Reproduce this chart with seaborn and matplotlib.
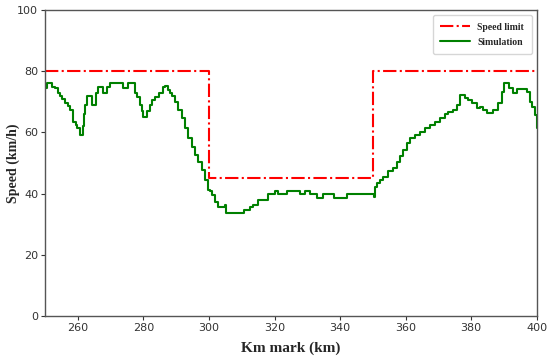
import numpy as np
import pandas as pd
import matplotlib
matplotlib.use("Agg")
import matplotlib.pyplot as plt
import seaborn as sns

# speed limit profile (step changes)
limit_km = [250, 300, 350, 400]
limit_speed = [80, 45, 80, 80]

# simulated speed
sim_km = [250.0, 250.6, 252.0, 253.0, 254.0, 254.6, 255.3, 256.1, 257.0, 257.6,
          258.5, 259.3, 259.8, 260.7, 261.5, 261.8, 262.3, 262.8, 264.3, 265.5,
          266.2, 267.7, 269.0, 269.8, 273.8, 275.3, 277.4, 278.0, 278.8, 279.6,
          279.9, 281.1, 281.9, 282.6, 283.5, 284.8, 286.0, 286.6, 287.5, 288.1,
          288.7, 289.6, 290.5, 291.8, 292.7, 293.6, 294.8, 295.7, 296.6, 297.9,
          298.8, 299.7, 300.3, 300.9, 301.7, 302.7, 304.9, 305.2, 310.6, 312.5,
          313.4, 315.0, 318.0, 320.0, 320.9, 323.8, 327.7, 329.3, 330.8, 332.9,
          334.8, 338.1, 342.2, 349.7, 350.3, 350.6, 351.2, 352.1, 353.0, 354.6,
          356.1, 357.3, 358.2, 359.1, 360.4, 361.3, 362.8, 364.3, 365.9, 367.4,
          368.9, 370.4, 372.0, 372.9, 374.4, 375.6, 376.5, 378.0, 379.0, 380.2,
          381.7, 382.6, 383.5, 384.8, 386.6, 388.1, 389.3, 390.0, 391.5, 392.7,
          393.9, 396.9, 397.9, 398.5, 399.4, 400.0]
sim_speed = [74.5, 76, 75, 74.5, 73, 72, 71, 69.6, 68.5, 67.3,
             63.4, 62.5, 61.4, 59.2, 62, 66, 69, 72, 69, 73,
             75, 73, 75, 76, 74.5, 76, 73, 71.6, 69, 67,
             65, 67, 69, 70.6, 71.6, 73, 75, 75.2, 74, 73,
             72, 70, 67.3, 64.7, 61.4, 58.2, 55.2, 52.6, 50.3, 47.7,
             44.4, 41.2, 41, 39.5, 37.3, 35.6, 36.3, 33.6, 34.6, 35.5,
             36.3, 38, 40, 41, 40, 41, 40, 41, 40, 38.6,
             40, 38.6, 40, 40, 39, 42, 43.5, 44.4, 45.4, 47.4,
             48.4, 50.3, 52.3, 54.2, 56.5, 58.2, 59.2, 60.1, 61.4, 62.4,
             63.4, 64.7, 66, 66.7, 67.3, 69, 72.2, 71.2, 70.5, 69.6,
             68, 68.3, 67.3, 66.3, 67.3, 69.6, 73.2, 76.1, 74.5, 72.9,
             74.2, 73.2, 70, 68.3, 65.7, 61.4]

sns.set_style("ticks")

fig, ax = plt.subplots(figsize=(5.5, 3.61), dpi=100)
fig.subplots_adjust(left=0.082, right=0.976, top=0.972, bottom=0.125)

sns.lineplot(x=limit_km, y=limit_speed, ax=ax, color="red", lw=1.5,
             linestyle="-.", drawstyle="steps-post", label="Speed limit")
sns.lineplot(x=sim_km, y=sim_speed, ax=ax, color="green", lw=1.5,
             drawstyle="steps-post", label="Simulation")

ax.set_xlim(250, 400)
ax.set_ylim(0, 100)
ax.set_xticks([260, 280, 300, 320, 340, 360, 380, 400])
ax.set_yticks([0, 20, 40, 60, 80, 100])
ax.tick_params(labelsize=8, length=3, width=0.8, colors="#333333", pad=2)
for sp in ax.spines.values():
    sp.set_visible(True)
    sp.set_color("#555555")
    sp.set_linewidth(1.0)

ax.set_xlabel("Km mark (km)", fontsize=11, fontweight="bold",
              family="Liberation Serif", labelpad=6)
ax.set_ylabel("Speed (km/h)", fontsize=10, fontweight="bold",
              family="Liberation Serif")
ax.yaxis.set_label_coords(-0.052, 0.5)

leg = ax.legend(loc="upper right", prop={"family": "Liberation Serif",
                "weight": "bold", "size": 7}, frameon=True, handlelength=3,
                borderpad=0.8, labelspacing=0.6)
leg.get_frame().set_edgecolor("#cccccc")

fig.savefig("out.png", dpi=100)
